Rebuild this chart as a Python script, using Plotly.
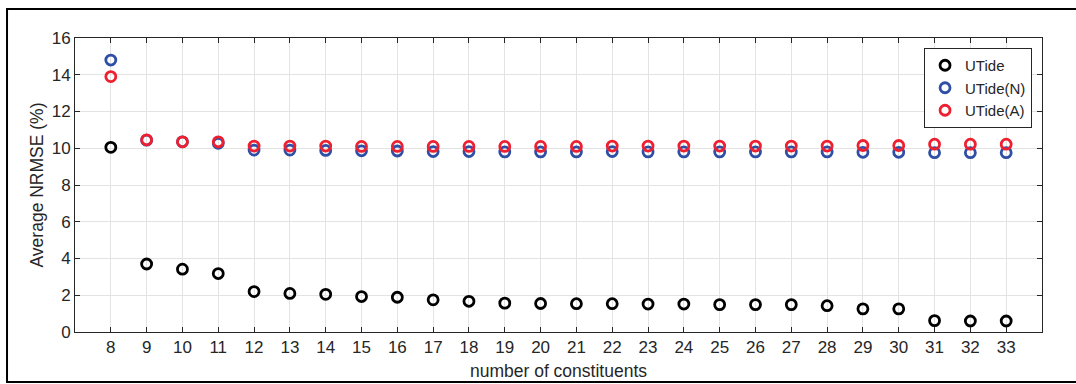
import plotly.graph_objects as go

constituents = list(range(8, 34))
utide = [10.05, 3.7, 3.42, 3.18, 2.2, 2.1, 2.05, 1.93, 1.89, 1.75, 1.67, 1.57, 1.55, 1.54, 1.54, 1.52,
         1.52, 1.49, 1.49, 1.49, 1.43, 1.26, 1.26, 0.62, 0.6, 0.6]
utide_n = [14.8, 10.44, 10.35, 10.27, 9.9, 9.9, 9.88, 9.86, 9.85, 9.82, 9.82, 9.8, 9.8, 9.8, 9.82, 9.8,
           9.8, 9.8, 9.8, 9.8, 9.8, 9.78, 9.78, 9.76, 9.76, 9.76]
utide_a = [13.9, 10.46, 10.35, 10.35, 10.12, 10.12, 10.12, 10.1, 10.1, 10.1, 10.1, 10.1, 10.1, 10.1, 10.12, 10.12,
           10.12, 10.12, 10.12, 10.12, 10.12, 10.15, 10.15, 10.22, 10.22, 10.22]
series = [("UTide", utide, "#000000"), ("UTide(N)", utide_n, "#2f4fa6"), ("UTide(A)", utide_a, "#ee2030")]

FONT = "Liberation Sans, Arial"

fig = go.Figure()
for name, vals, col in series:
    fig.add_trace(go.Scatter(x=constituents, y=vals, mode="markers", name=name,
                             marker=dict(symbol="circle-open", size=10, color=col, line=dict(width=2.8, color=col))))

axis_common = dict(showline=True, linecolor="#262626", linewidth=1, mirror="ticks", ticks="inside",
                   ticklen=5, tickcolor="#262626", showgrid=True, gridcolor="#e3e3e3", gridwidth=1,
                   zeroline=False, automargin=False, tickfont=dict(family=FONT, size=17, color="#262626"))

fig.update_xaxes(range=[7, 34], tickmode="array", tickvals=constituents, ticktext=[str(c) for c in constituents],
                 title=dict(text="number of constituents", font=dict(family=FONT, size=17.5, color="#262626"), standoff=8),
                 **axis_common)
fig.update_yaxes(range=[0, 16], tickvals=[0, 2, 4, 6, 8, 10, 12, 14, 16],
                 title=dict(text="Average NRMSE (%)", font=dict(family=FONT, size=17.5, color="#262626"), standoff=3),
                 **axis_common)

fig.update_layout(
    width=1076, height=384, margin=dict(l=75, r=34, t=38, b=52),
    paper_bgcolor="white", plot_bgcolor="white",
    font=dict(family=FONT, size=17, color="#262626"),
    legend=dict(x=0.9897, y=0.966, xanchor="right", yanchor="top", bgcolor="white",
                bordercolor="#262626", borderwidth=1, font=dict(family=FONT, size=15, color="#262626"),
                itemwidth=30, tracegroupgap=0),
    shapes=[dict(type="rect", xref="paper", yref="paper", x0=-0.0703, x1=1.05, y0=-0.170, y1=1.0986,
                 line=dict(color="black", width=2), fillcolor="rgba(0,0,0,0)", layer="below")],
)

fig.write_html("out.html")
